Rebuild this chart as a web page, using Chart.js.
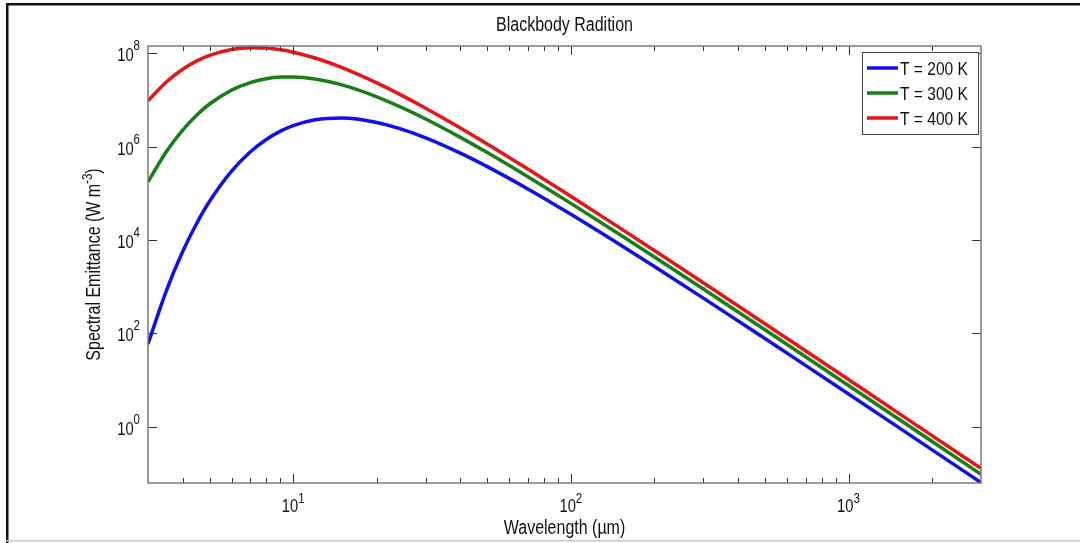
<!DOCTYPE html>
<html>
<head>
<meta charset="utf-8">
<title>Blackbody Radition</title>
<script src="https://cdn.jsdelivr.net/npm/chart.js@4.4.1/dist/chart.umd.min.js"></script>
<style>
  html, body { margin: 0; padding: 0; background: #fff; }
  canvas { display: block; }
</style>
</head>
<body>
<canvas id="chart" width="1080" height="543"></canvas>
<script>
// Wavelength in micrometres
const wavelength = [3, 3.5, 4, 4.5, 5, 6, 7, 8, 9, 10, 12, 15, 20, 25, 30, 40, 50, 70,
  100, 150, 200, 300, 500, 700, 1000, 1500, 2000, 3000];

// Spectral emittance (W m^-3)
const t200 = [59.3, 845, 5649, 2.312e4, 6.755e4, 2.986e5, 7.662e5, 1.42e6, 2.141e6, 2.813e6,
  3.756e6, 4.105e6, 3.295e6, 2.285e6, 1.540e6, 7.249e5, 3.724e5, 1.241e5,
  3.553e4, 8007, 2701, 568.2, 77.39, 20.57, 5.017, 1.003, 0.3193, 0.06345];
const t300 = [1.756e5, 7.97e5, 2.268e6, 4.768e6, 8.176e6, 1.626e7, 2.358e7, 2.852e7, 3.088e7, 3.117e7,
  2.815e7, 2.100e7, 1.169e7, 6.595e6, 3.902e6, 1.577e6, 7.439e5, 2.263e5,
  6.080e4, 1.308e4, 4315, 888.2, 118.9, 31.40, 7.616, 1.517, 0.4818, 0.09555];
const t400 = [9.556e6, 2.452e7, 4.544e7, 6.851e7, 9.000e7, 1.202e8, 1.314e8, 1.288e8, 1.186e8, 1.054e8,
  7.900e7, 4.927e7, 2.320e7, 1.192e7, 6.646e6, 2.507e6, 1.137e6, 3.314e5,
  8.644e4, 1.818e4, 5934, 1209, 160.5, 42.22, 10.22, 2.030, 0.6443, 0.1277];

const seriesLabels = ['T = 200 K', 'T = 300 K', 'T = 400 K'];
const seriesColors = ['#1010ee', '#187f18', '#e81515'];

// Axis ticks (log scales)
const xMajor = [10, 100, 1000];
const xMajorExp = ['1', '2', '3'];
const xMinor = [4, 5, 6, 7, 8, 9, 20, 30, 40, 50, 60, 70, 80, 90,
  200, 300, 400, 500, 600, 700, 800, 900, 2000];
const yMajor = [1, 100, 1e4, 1e6, 1e8];
const yMajorExp = ['0', '2', '4', '6', '8'];

const FONT = '"Liberation Sans", Arial, sans-serif';
const SQ = 0.82; // the original figure uses a narrow face

function txtWidth(c, s, size) {
  c.font = size + 'px ' + FONT;
  return c.measureText(s).width * SQ;
}

function txt(c, s, x, y, size, align, base) {
  c.save();
  c.font = size + 'px ' + FONT;
  c.translate(x, y);
  c.scale(SQ, 1);
  c.textAlign = align || 'left';
  c.textBaseline = base || 'alphabetic';
  c.fillStyle = '#111';
  c.fillText(s, 0, 0);
  c.restore();
}

const matlabAxes = {
  id: 'matlabAxes',
  afterDatasetsDraw(chart) {
    const c = chart.ctx;
    const a = chart.chartArea;
    const xs = chart.scales.x, ys = chart.scales.y;

    // figure frame
    c.save();
    c.fillStyle = '#111';
    c.fillRect(6, 3, 1074, 2.5);
    c.fillRect(6, 3, 2.5, 540);
    c.fillStyle = '#c8c8c8';
    c.fillRect(6, 540, 1074, 1.5);

    // ticks, pointing inward on all four sides
    c.strokeStyle = '#333';
    c.lineWidth = 1;
    c.beginPath();
    const tickX = (v, len) => {
      const px = Math.round(xs.getPixelForValue(v)) + 0.5;
      c.moveTo(px, a.bottom); c.lineTo(px, a.bottom - len);
      c.moveTo(px, a.top); c.lineTo(px, a.top + len);
    };
    xMajor.forEach(v => tickX(v, 9));
    xMinor.forEach(v => tickX(v, 5));
    yMajor.forEach(v => {
      const py = Math.round(ys.getPixelForValue(v)) + 0.5;
      c.moveTo(a.left, py); c.lineTo(a.left + 9, py);
      c.moveTo(a.right, py); c.lineTo(a.right - 9, py);
    });
    c.stroke();

    // axes box
    c.strokeStyle = '#7a7a7a';
    c.lineWidth = 1.5;
    c.strokeRect(a.left, a.top, a.right - a.left, a.bottom - a.top);
    c.restore();

    // x tick labels
    xMajor.forEach((v, i) => {
      const px = xs.getPixelForValue(v);
      const wb = txtWidth(c, '10', 18), we = txtWidth(c, xMajorExp[i], 14);
      const x0 = px - (wb + we) / 2;
      txt(c, '10', x0, a.bottom + 29, 18);
      txt(c, xMajorExp[i], x0 + wb, a.bottom + 20, 14);
    });

    // y tick labels
    yMajor.forEach((v, i) => {
      const py = ys.getPixelForValue(v);
      const wb = txtWidth(c, '10', 18), we = txtWidth(c, yMajorExp[i], 14);
      const x1 = a.left - 8;
      txt(c, '10', x1 - we - wb, py + 8, 18);
      txt(c, yMajorExp[i], x1 - we, py - 3, 14);
    });

    // titles
    const cx = (a.left + a.right) / 2;
    txt(c, 'Blackbody Radition', cx, 31, 19.5, 'center');
    txt(c, 'Wavelength (\u00b5m)', cx, 534, 19.5, 'center');

    // y axis title with superscript, rotated
    const p1 = 'Spectral Emittance (W m', p2 = '-3', p3 = ')';
    const w1 = txtWidth(c, p1, 19.5), w2 = txtWidth(c, p2, 14), w3 = txtWidth(c, p3, 19.5);
    c.save();
    c.translate(100, (a.top + a.bottom) / 2);
    c.rotate(-Math.PI / 2);
    const u0 = -(w1 + w2 + w3) / 2;
    txt(c, p1, u0, 0, 19.5);
    txt(c, p2, u0 + w1, -8, 14);
    txt(c, p3, u0 + w1 + w2, 0, 19.5);
    c.restore();

    // legend
    c.save();
    c.fillStyle = '#fff';
    c.fillRect(862, 52, 116, 82);
    c.strokeStyle = '#444';
    c.lineWidth = 1;
    c.strokeRect(862.5, 52.5, 116, 82);
    chart.data.datasets.forEach((ds, i) => {
      const y = 68 + i * 25;
      c.strokeStyle = ds.borderColor;
      c.lineWidth = 3.5;
      c.beginPath();
      c.moveTo(867, y); c.lineTo(898, y);
      c.stroke();
      txt(c, ds.label, 900, y + 7, 19);
    });
    c.restore();
  }
};

const datasets = [t200, t300, t400].map((vals, i) => ({
  label: seriesLabels[i],
  data: wavelength.map((w, j) => ({ x: w, y: vals[j] })),
  borderColor: seriesColors[i],
  borderWidth: 3.5,
  pointRadius: 0,
  fill: false,
  cubicInterpolationMode: 'monotone'
}));

new Chart(document.getElementById('chart'), {
  type: 'line',
  data: { datasets },
  options: {
    responsive: false,
    animation: false,
    layout: { padding: { left: 148, top: 46, right: 99, bottom: 60 } },
    scales: {
      x: { type: 'logarithmic', min: 3, max: 3000, display: false },
      y: { type: 'logarithmic', min: 0.0622, max: 1.43e8, display: false }
    },
    plugins: {
      legend: { display: false },
      title: { display: false },
      tooltip: { enabled: false }
    }
  },
  plugins: [matlabAxes]
});
</script>
</body>
</html>
